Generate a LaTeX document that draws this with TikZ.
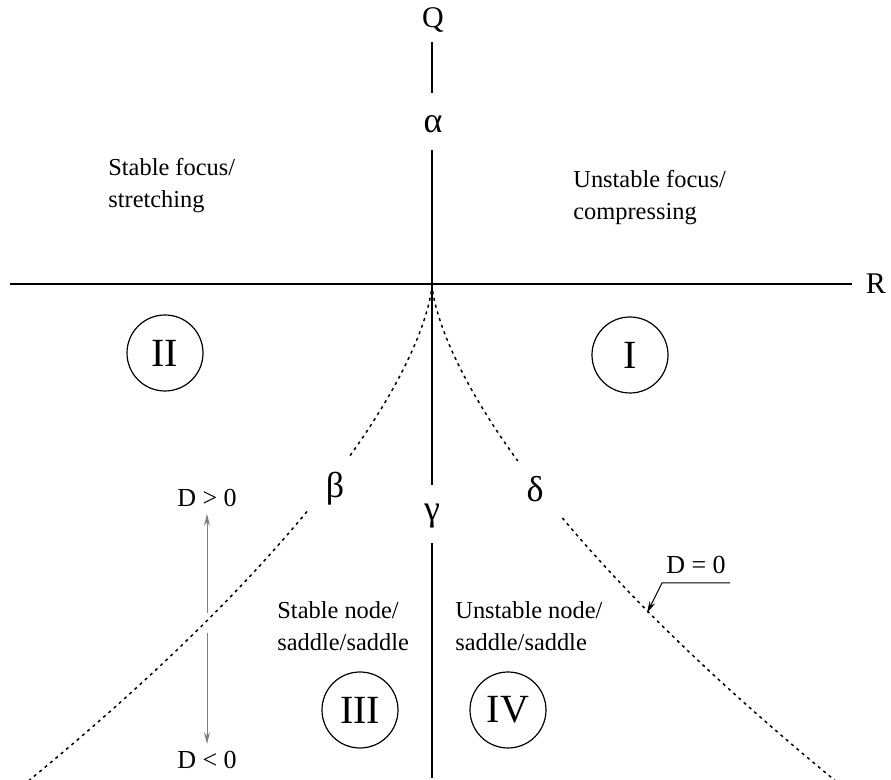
\documentclass[tikz,border=0pt]{standalone}
\usepackage{fontspec}
\setmainfont{Liberation Serif}
\usetikzlibrary{arrows.meta}

\tikzset{
  axis/.style={line width=1.1pt},
  cusp/.style={line width=0.75pt, dash pattern=on 1.5pt off 2pt},
  region/.style={draw, circle, line width=0.6pt, minimum size=38pt, inner sep=0pt,
    font=\fontsize{20}{20}\selectfont},
  regtext/.style={align=left, anchor=west, inner sep=0pt,
    font=\fontsize{12.2}{16}\selectfont},
  axlabel/.style={font=\fontsize{15}{15}\selectfont},
  greek/.style={font=\fontsize{18}{18}\selectfont},
  sign/.style={font=\fontsize{13}{13}\selectfont},
  pointer/.style={line width=0.5pt, -{Stealth[length=6pt,width=3pt]}},
}

\begin{document}
\begin{tikzpicture}[x=0.5pt, y=-0.5pt]
    \useasboundingbox (0,0) rectangle (891,780);
    % axes and their labels
    \node[axlabel] (lblQ) at (433,20) {Q};
    \node[axlabel] (lblR) at (876,284) {R};
    \node[greek] (alpha) at (433,124) {α};
    \node[greek] (beta) at (335,489) {β};
    \node[greek] (gamma) at (432,516) {γ};
    \node[greek] (delta) at (535,489) {δ};
    \draw[axis] (432,42) -- (432,93);
    \draw[axis] (432,150) -- (432,485);
    \draw[axis] (432,543) -- (432,778);
    \draw[axis] (10,284) -- (852,284);
    % the cusp D = 0
    \draw[cusp, domain=0:4.41, samples=40, variable=\t] plot ({432+\t*\t*\t}, {284+9.1*\t*\t});
    \draw[cusp, domain=5.07:7.4, samples=40, variable=\t] plot ({432+\t*\t*\t}, {284+9.1*\t*\t});
    \draw[cusp, domain=0:4.38, samples=40, variable=\t] plot ({432-\t*\t*\t}, {284+9.1*\t*\t});
    \draw[cusp, domain=5.0:7.4, samples=40, variable=\t] plot ({432-\t*\t*\t}, {284+9.1*\t*\t});
    % regions
    \node[region] (regI) at (630,355) {I};
    \node[region] (regII) at (165,353) {II};
    \node[region] (regIII) at (360,710) {III};
    \node[region] (regIV) at (508,710) {IV};
    \node[regtext] (focS) at (108,186) {Stable focus/\\stretching};
    \node[regtext] (focU) at (573,198) {Unstable focus/\\compressing};
    \node[regtext] (nodeS) at (277,626) {Stable node/\\saddle/saddle};
    \node[regtext] (nodeU) at (455,626) {Unstable node/\\saddle/saddle};
    % sign of D
    \node[sign] (dpos) at (207,498) {D > 0};
    \node[sign] (dneg) at (207,760) {D < 0};
    \node[sign] (dzero) at (696,565) {D = 0};
    \coordinate (gapA) at (207,613);
    \coordinate (gapB) at (207,633);
    \draw[pointer, gray] (gapA) -- (dpos);
    \draw[pointer, gray] (gapB) -- (dneg);
    \coordinate (lead) at (730,583);
    \coordinate (bend) at (662,583);
    \coordinate (touch) at (647,613);
    \draw[pointer] (lead) -- (bend) -- (touch);
\end{tikzpicture}
\end{document}
